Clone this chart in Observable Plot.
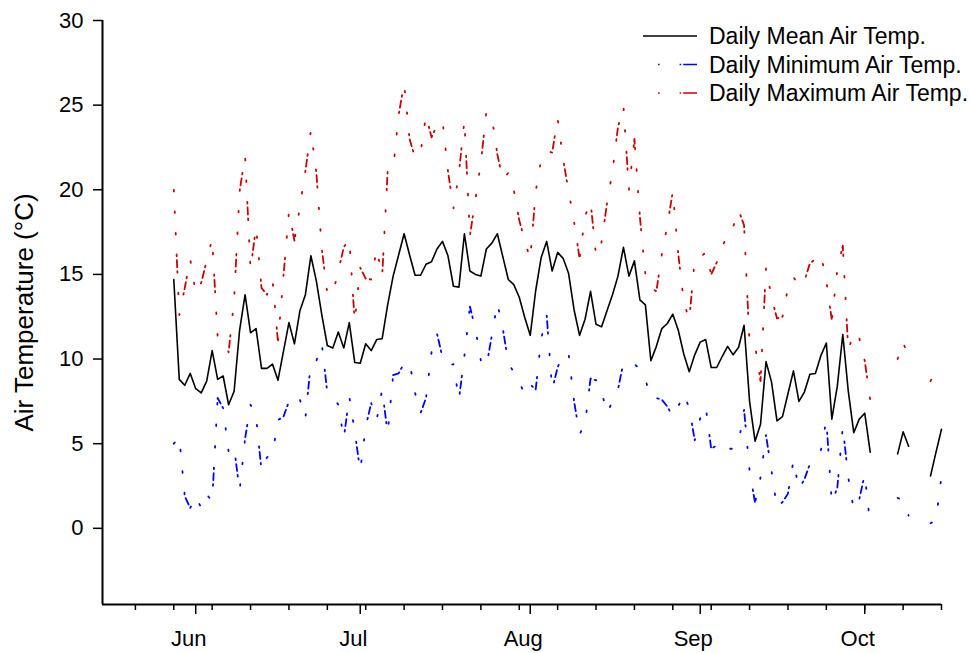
<!DOCTYPE html>
<html>
<head>
<meta charset="utf-8">
<script src="https://cdn.jsdelivr.net/npm/d3@7"></script>
<script src="https://cdn.jsdelivr.net/npm/@observablehq/plot@0.6"></script>
<style>
  body { margin: 0; background: #fff; }
  #chart { width: 970px; height: 653px; font-family: "Liberation Sans", Arial, sans-serif; }
</style>
</head>
<body>
<div id="chart"></div>
<script>
// Daily air temperature record, one value per day starting 28 May (null = no data)
const startDate = "2013-05-28";

const meanTemp = [
  14.7, 8.8, 8.45, 9.15,
  8.25, 8.0, 8.7, 10.5, 8.8, 9.0, 7.3, 8.1, 11.7, 13.8,
  11.55, 11.8, 9.45, 9.45, 9.7, 8.75, 10.45, 12.15, 10.9, 12.85,
  13.8, 16.1, 14.6, 12.6, 10.8, 10.65, 11.6, 10.65, 12.15, 9.8,
  9.75, 10.9, 10.5, 11.15, 11.2, 13.2, 14.9, 16.15, 17.4, 16.15,
  14.95, 14.95, 15.6, 15.75, 16.5, 16.95, 16.1, 14.3, 14.25, 17.4,
  15.2, 15.0, 14.9, 16.5, 16.85, 17.4, 16.05, 14.7, 14.4, 13.65,
  12.45,
  11.4, 14.05, 16.0, 16.95, 15.2, 16.3, 15.95, 15.05, 12.9, 11.4,
  12.35, 14.0, 12.05, 11.9, 12.85, 13.8, 14.9, 16.6, 14.9, 15.8,
  13.5, 13.2, 9.9, 10.75, 11.8, 12.1, 12.65, 11.7, 10.3, 9.25,
  10.25,
  11.0, 11.15, 9.5, 9.5, 10.15, 10.75, 10.25, 10.7, 12.0, 7.5,
  5.15, 6.15, 9.85, 8.65, 6.35, 6.6, 7.95, 9.3, 7.5, 8.05,
  9.1, 9.15, 10.2, 10.95, 6.45, 8.4, 11.45, 8.1, 5.65, 6.45,
  6.8, 4.5, null, null, null, null, 4.4, 5.7, 4.85, null,
  null, null, 3.1, 4.5, 5.85
];

const minTemp = [
  5.0, 5.4, 1.9, 1.2,
  1.9, 1.2, 2.0, 1.6, 7.7, 7.1, 4.5, 4.8, 2.2, 5.3,
  7.3, 6.6, 3.4, 4.2, 4.35, 6.4, 6.6, 7.5, 7.2, 7.6,
  6.5, 9.8, 9.9, 10.9, 8.0, 7.8, 7.3, 5.3, 7.8, 5.7,
  3.4, 6.0, 7.4, 6.4, 8.2, 5.6, 9.05, 9.15, 9.75, 9.8,
  8.0, 6.8, 7.7, 10.4, 11.5, 10.1, 9.6, 9.7, 7.6, 10.2,
  13.1, 11.8, 9.9, 9.55, 11.4, 13.3, 11.8, 9.8, 9.2, 8.65,
  7.9,
  8.5, 8.2, 11.2, 12.6, 8.2, 9.5, 10.35, 10.3, 7.5, 5.55,
  6.2, 8.85, 8.75, 8.1, 6.8, 7.5, 8.2, 9.8, 9.8, 9.7,
  9.4, 8.8, 7.7, 7.7, 7.6, 7.2, 6.6, 7.2, 7.95, 7.1,
  5.2,
  6.5, 7.2, 4.7, 4.9, 4.5, 4.7, 4.7, 5.05, 7.0, 3.4,
  1.5, 3.0, 5.5, 3.4, 1.2, 1.55, 2.05, 4.0, 2.3, 2.9,
  3.8, 4.1, 4.6, 6.4, 1.5, 2.4, 6.0, 3.0, 1.1, 1.7,
  3.2, 0.2, null, null, null, null, 1.8, 1.65, 0.75, null,
  null, null, 0.3, 0.5, 3.1
];

const maxTemp = [
  20.0, 12.6, 14.2, 15.9,
  13.9, 14.5, 15.8, 17.1, 11.3, 11.1, 10.4, 13.5, 19.9, 22.0,
  15.3, 17.8, 14.2, 13.8, 14.7, 11.0, 14.9, 18.7, 17.0, 19.0,
  21.1, 23.5, 21.0, 16.5, 13.85, 13.85, 15.2, 16.6, 17.1, 12.2,
  15.4, 14.75, 14.7, 16.5, 14.9, 21.1, 21.2, 24.4, 26.3, 23.0,
  21.9, 22.2, 24.4, 23.1, 23.8, 24.1, 21.1, 18.9, 21.0, 24.1,
  17.3, 19.4, 21.6, 24.6, 24.3, 22.1, 20.6, 21.0, 20.0, 18.2,
  17.0,
  15.9, 19.9, 21.8, 22.3, 22.2, 24.2, 21.8, 19.9, 18.1, 15.95,
  18.45, 19.3, 16.1, 16.9, 19.2, 21.1, 23.7, 24.95, 20.0, 23.0,
  18.4, 15.0, 14.2, 14.0, 16.2, 17.9, 19.9, 16.2, 13.4, 12.3,
  15.9,
  16.0, 16.3, 15.0, 15.7, 16.5, 17.6, 17.8, 18.8, 17.9, 10.9,
  10.8, 8.7, 15.4, 13.65, 12.4, 12.5, 14.2, 14.85, 14.3, 14.6,
  15.65, 15.9, 16.2, 14.6, 12.3, 15.3, 16.7, 10.5, 11.6, 11.25,
  9.9, 7.6, null, null, null, null, 10.0, 11.0, 10.1, null,
  null, null, 8.7, 9.45, 9.2
];

const seriesNames = ["Daily Mean Air Temp.", "Daily Minimum Air Temp.", "Daily Maximum Air Temp."];
const yLabel = "Air Temperature (°C)";
const xDomain = ["2013-05-15", "2013-10-15"];
const monthTicks = ["2013-06-01", "2013-07-01", "2013-08-01", "2013-09-01", "2013-10-01"];
const weekTicks = [
  "2013-05-21", "2013-05-28", "2013-06-04", "2013-06-11", "2013-06-18", "2013-06-25",
  "2013-07-02", "2013-07-09", "2013-07-16", "2013-07-23", "2013-07-30",
  "2013-08-06", "2013-08-13", "2013-08-20", "2013-08-27",
  "2013-09-03", "2013-09-10", "2013-09-17", "2013-09-24",
  "2013-10-01", "2013-10-08", "2013-10-15"
];
const yTicks = [0, 5, 10, 15, 20, 25, 30];
const yDomain = [-4.5, 30];

const utc = s => new Date(s + "T00:00:00Z");
const day0 = utc(startDate).getTime();
const rows = meanTemp.map((m, i) => ({
  date: new Date(day0 + i * 864e5),
  mean: m,
  min: minTemp[i],
  max: maxTemp[i]
}));

const blue = "#0000ff", red = "#cc0000";
// sparse dot-dot-dot-dash pattern for the min / max series
const dotDash = "1.6,20,1.6,20,1.6,20,1.6,4,7,4";
const monthFmt = d3.utcFormat("%b");
const font = "'Liberation Sans', Arial, sans-serif";

const chart = Plot.plot({
  width: 970,
  height: 653,
  marginTop: 20,
  marginBottom: 49,
  marginLeft: 102,
  marginRight: 29,
  style: { fontFamily: font, fontSize: "22px", color: "#000", background: "#fff" },
  x: { type: "utc", domain: xDomain.map(utc) },
  y: { domain: yDomain },
  marks: [
    // frame lines (left and bottom)
    Plot.ruleX([utc(xDomain[0])], { stroke: "#000", strokeWidth: 2 }),
    Plot.ruleY([yDomain[0]], { stroke: "#000", strokeWidth: 2 }),
    // y axis
    Plot.axisY({ ticks: yTicks, tickSize: 9, tickPadding: 10, tickFormat: d => String(d), label: null, fontSize: 22, strokeWidth: 1.5 }),
    // weekly minor ticks and month major ticks
    Plot.axisX({ ticks: weekTicks.map(utc), tickSize: 6, tickFormat: () => "", label: null, strokeWidth: 1.5 }),
    Plot.axisX({ ticks: monthTicks.map(utc), tickSize: 10, tickFormat: () => "", label: null, strokeWidth: 1.5 }),
    Plot.text(monthTicks.map(utc), {
      x: d => d, text: d => monthFmt(d), frameAnchor: "bottom",
      lineAnchor: "top", dy: 26, dx: -7, fontSize: 22, fill: "#000"
    }),
    // y axis title
    Plot.text([yLabel], {
      frameAnchor: "left", rotate: -90, dx: -78, fontSize: 26,
      textAnchor: "middle", lineAnchor: "middle", fill: "#000"
    }),
    // series
    Plot.line(rows, { x: "date", y: "max", stroke: red, strokeWidth: 1.8, strokeDasharray: dotDash }),
    Plot.line(rows, { x: "date", y: "min", stroke: blue, strokeWidth: 1.8, strokeDasharray: dotDash }),
    Plot.line(rows, { x: "date", y: "mean", stroke: "#000", strokeWidth: 1.6 })
  ]
});

document.getElementById("chart").appendChild(chart);

// legend, top right inside the plot area
const svg = d3.select(chart);
const legend = svg.append("g")
  .attr("font-family", font)
  .attr("font-size", 23)
  .attr("text-anchor", "start");
const legendItems = [
  { name: seriesNames[0], color: "#000", dash: null, y: 36 },
  { name: seriesNames[1], color: blue, dash: "0,15,1.6,20,1.6,2,14,10", y: 64.5 },
  { name: seriesNames[2], color: red, dash: "0,15,1.6,20,1.6,2,14,10", y: 93 }
];
legendItems.forEach(item => {
  legend.append("line")
    .attr("x1", 643).attr("x2", 697).attr("y1", item.y).attr("y2", item.y)
    .attr("stroke", item.color).attr("stroke-width", 1.7)
    .attr("stroke-dasharray", item.dash);
  legend.append("text")
    .attr("x", 709).attr("y", item.y).attr("dy", "0.35em")
    .attr("text-anchor", "start")
    .attr("fill", "#000").text(item.name);
});
</script>
</body>
</html>
